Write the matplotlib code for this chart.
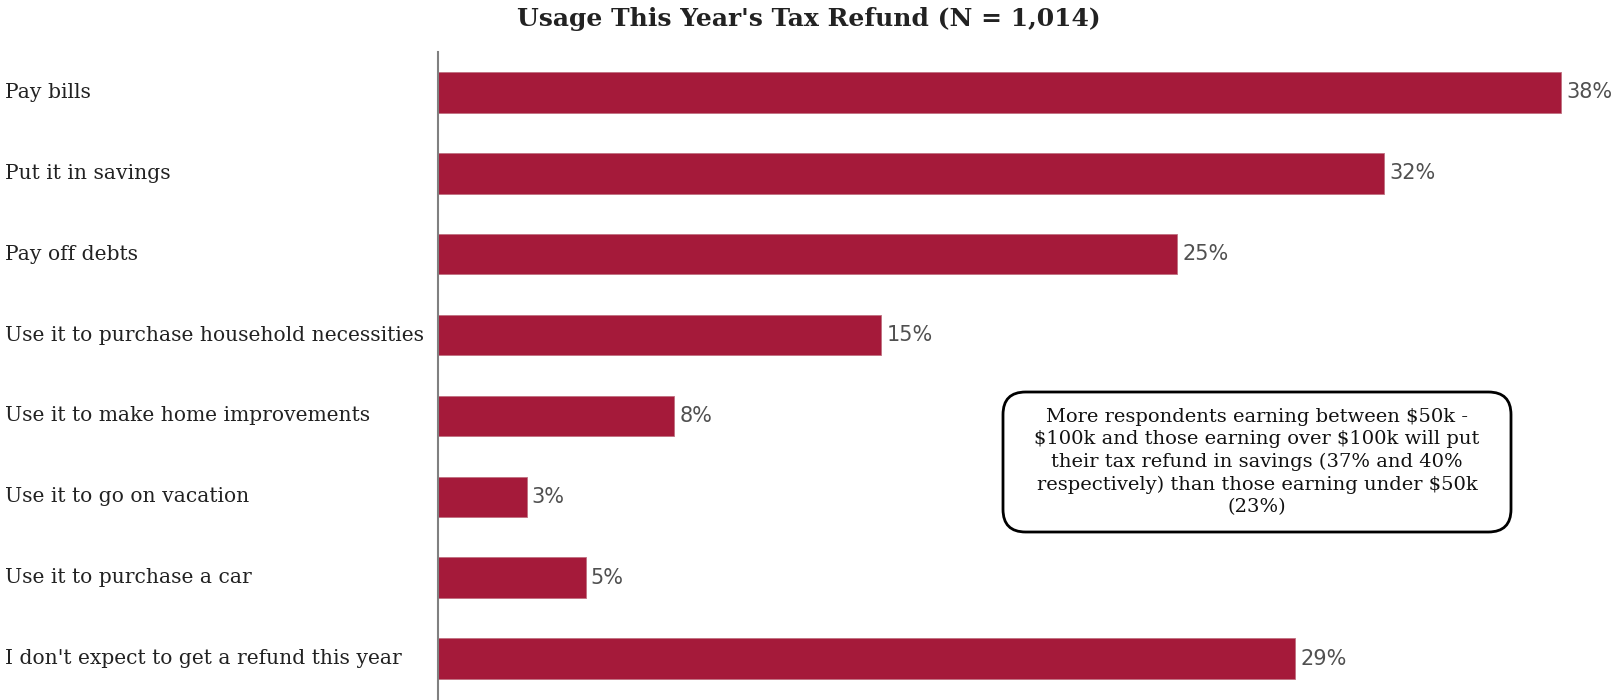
import matplotlib
matplotlib.use("Agg")
import matplotlib.pyplot as plt
from matplotlib.patches import FancyBboxPatch

plt.rcParams["text.parse_math"] = False

categories = [
    "Pay bills",
    "Put it in savings",
    "Pay off debts",
    "Use it to purchase household necessities",
    "Use it to make home improvements",
    "Use it to go on vacation",
    "Use it to purchase a car",
    "I don't expect to get a refund this year",
]
shares = [38, 32, 25, 15, 8, 3, 5, 29]
value_labels = ["38%", "32%", "25%", "15%", "8%", "3%", "5%", "29%"]

title = "Usage This Year's Tax Refund (N = 1,014)"
note = ("More respondents earning between $50k -\n"
        "$100k and those earning over $100k will put\n"
        "their tax refund in savings (37% and 40%\n"
        "respectively) than those earning under $50k\n"
        "(23%)")

W, H = 1617, 700
fig = plt.figure(figsize=(W / 100, H / 100), dpi=100)
fig.patch.set_facecolor("white")

ax = fig.add_axes([438 / W, 1 - 699 / H, 1 - 438 / W, (699 - 52) / H])
y = list(range(len(categories)))
ax.barh(y, shares, height=0.5, color="#A51A3A", edgecolor="#C07080", linewidth=0.6)
ax.set_ylim(len(categories) - 0.5, -0.5)
ax.set_xlim(0, (W - 438) / 29.56)

for s in ["top", "right", "bottom"]:
    ax.spines[s].set_visible(False)
ax.spines["left"].set_color("#808080")
ax.spines["left"].set_linewidth(1.5)
ax.set_xticks([])
ax.set_yticks([])

for yi, v, lab in zip(y, shares, value_labels):
    ax.text(v + 0.17, yi, lab, va="center", ha="left", fontsize=15,
            color="#505050", family="DejaVu Sans")

# category labels, left-aligned at the figure edge
for yi, cat in zip(y, categories):
    yf = ax.transData.transform((0, yi))[1] / H
    fig.text(5 / W, yf, cat, ha="left", va="center", fontsize=14.6,
             family="DejaVu Serif", color="#222222")

fig.text(809 / W, 1 - 19 / H, title, ha="center", va="center", fontsize=18,
         fontweight="bold", family="DejaVu Serif", color="#222222")

# rounded callout box
bx0, by0, bx1, by1 = 1003, 392, 1511, 532
box = FancyBboxPatch((bx0 / W, 1 - by1 / H), (bx1 - bx0) / W, (by1 - by0) / H,
                     boxstyle="round,pad=0,rounding_size=0.014",
                     transform=fig.transFigure, facecolor="white",
                     edgecolor="black", linewidth=2, mutation_aspect=W / H)
fig.add_artist(box)
fig.text((bx0 + bx1) / 2 / W, 1 - (by0 + by1) / 2 / H, note, ha="center",
         va="center", fontsize=14, family="DejaVu Serif", linespacing=1.32,
         color="#111111")

fig.savefig("out.png", dpi=100, facecolor="white")
